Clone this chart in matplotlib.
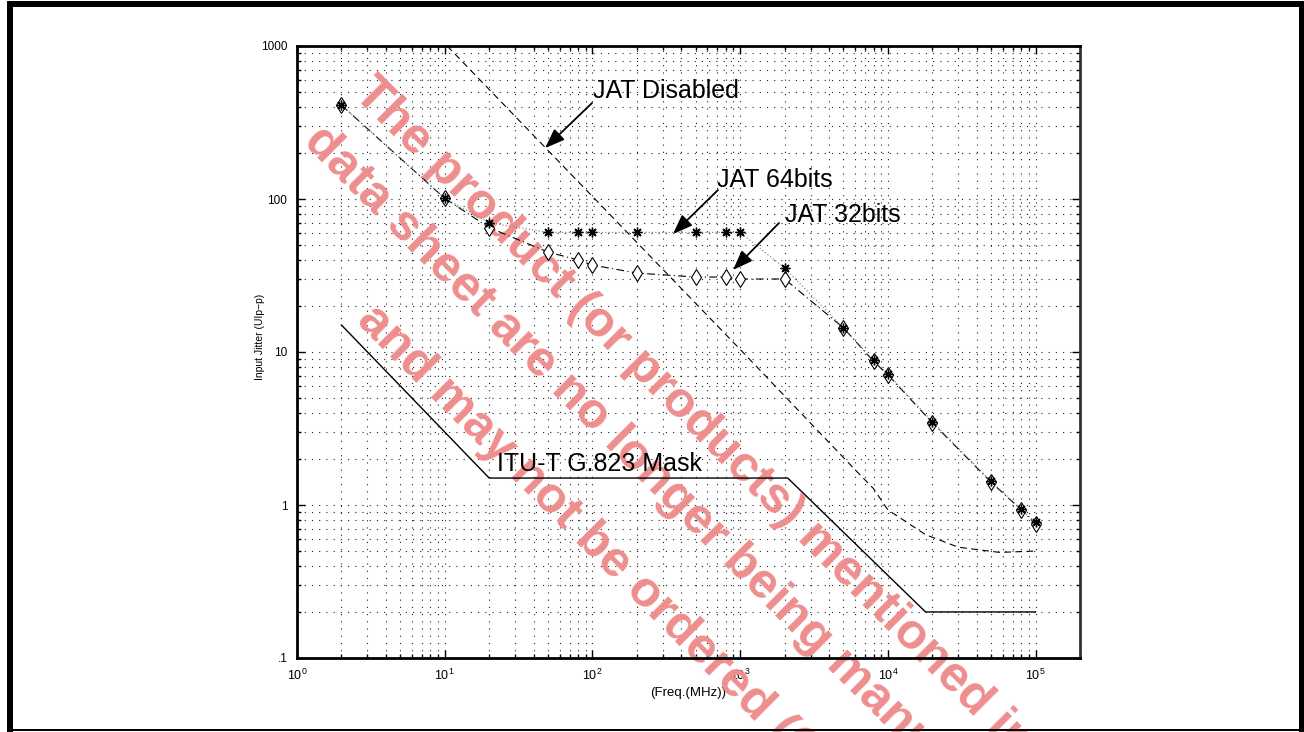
import numpy as np
import matplotlib
matplotlib.use("Agg")
import matplotlib.pyplot as plt
from matplotlib.patches import Rectangle
from matplotlib.ticker import LogLocator, FixedLocator, FixedFormatter, NullFormatter

plt.rcParams['font.family'] = ['Liberation Sans', 'DejaVu Sans']
plt.rcParams['mathtext.fontset'] = 'custom'
plt.rcParams['mathtext.rm'] = 'Liberation Sans'
plt.rcParams['mathtext.it'] = 'Liberation Sans:italic'
plt.rcParams['mathtext.bf'] = 'Liberation Sans:bold'

# ---------------- data ----------------
freq_jat = [2, 10, 20, 50, 80, 100, 200, 500, 800, 1000, 2000, 5000, 8000, 10000, 20000, 50000, 80000, 100000]
jat32 = [410, 101, 65, 45, 40, 37, 32.8, 30.9, 30.9, 30, 30, 14.4, 8.7, 7.1, 3.45, 1.41, 0.93, 0.75]
jat64 = [410, 101, 70, 60.5, 60.5, 60.5, 60.5, 60.5, 60.5, 60.5, 35.4, 14.4, 8.8, 7.2, 3.5, 1.43, 0.94, 0.77]

freq_dis = [10.4, 100, 1000, 6000, 8000, 10000, 18000, 30000, 57000, 100000]
jat_dis = [1000, 104, 10.4, 1.7, 1.28, 0.93, 0.64, 0.53, 0.49, 0.5]

freq_mask = [2, 20, 2100, 18000, 100000]
mask = [15, 1.5, 1.5, 0.2, 0.2]

y_ticks = [0.1, 1, 10, 100, 1000]
y_tick_labels = ['.1', '1', '10', '100', '1000']

watermark_lines = ["The product (or products) mentioned in this",
                   "data sheet are no longer being manufactured",
                   "and may not be ordered (Obsolete)"]

# ---------------- figure ----------------
W, H = 1304, 732
fig = plt.figure(figsize=(W / 100, H / 100), dpi=100)
ax = fig.add_axes([297 / W, 1 - 658 / H, (1080 - 297) / W, (658 - 46) / H])

ax.set_xscale('log')
ax.set_yscale('log')
ax.set_xlim(1, 2e5)
ax.set_ylim(0.1, 1000)

# grid
ax.grid(True, which='both', linestyle=(0, (1, 5.5)), linewidth=0.8, color='#222222')
ax.set_axisbelow(True)

# series
ax.plot(freq_mask, mask, '-', color='black', lw=1.0, zorder=3)
ax.plot(freq_dis, jat_dis, color='black', lw=0.8, linestyle=(0, (6, 4)), zorder=3)
ax.plot(freq_jat, jat32, color='black', lw=0.8, linestyle=(0, (7, 3, 1, 3)),
        marker='d', markersize=8.5, mfc='white', mec='black', mew=0.8, zorder=4)
ax.plot(freq_jat, jat64, color='#777777', lw=0.8, linestyle=(0, (1, 2)),
        marker=(8, 2, 0), markersize=7, mec='black', mew=1.0, zorder=5)

# ticks
ax.xaxis.set_major_locator(LogLocator(base=10, numticks=10))
ax.xaxis.set_minor_locator(LogLocator(base=10, subs=np.arange(2, 10), numticks=20))
ax.xaxis.set_minor_formatter(NullFormatter())
ax.yaxis.set_major_locator(FixedLocator(y_ticks))
ax.yaxis.set_major_formatter(FixedFormatter(y_tick_labels))
ax.yaxis.set_minor_locator(LogLocator(base=10, subs=np.arange(2, 10), numticks=20))
ax.yaxis.set_minor_formatter(NullFormatter())
ax.tick_params(which='both', direction='in', top=True, right=True, width=1)
ax.tick_params(which='major', length=6)
ax.tick_params(which='minor', length=3)
ax.tick_params(axis='y', pad=7, labelsize=8.5)
ax.tick_params(axis='x', pad=7, labelsize=9)

for s in ax.spines.values():
    s.set_linewidth(2)
    s.set_color('black')
ax.spines['right'].set_color('#333333')

ax.set_xlabel('(Freq.(MHz))', fontsize=9.5, labelpad=3)
ax.set_ylabel('Input Jitter (UIp\u2212p)', fontsize=7.5)
ax.yaxis.set_label_coords(-0.041, 0.525)

# annotations
fs = 18
arrow_style = dict(arrowstyle='-|>,head_length=1.2,head_width=0.45', color='black', lw=1.3,
                   shrinkA=0, shrinkB=0)
ax.text(101, 457, 'JAT Disabled', fontsize=fs, ha='left', va='baseline', zorder=6)
ax.annotate('', xy=(47.8, 215), xytext=(99.4, 424), arrowprops=arrow_style, zorder=6)
ax.text(698, 119.7, 'JAT 64bits', fontsize=fs, ha='left', va='baseline', zorder=6)
ax.annotate('', xy=(351, 59), xytext=(708, 114.5), arrowprops=arrow_style, zorder=6)
ax.text(2014, 70.8, 'JAT 32bits', fontsize=fs, ha='left', va='baseline', zorder=6)
ax.annotate('', xy=(896, 34.4), xytext=(1834, 69.7), arrowprops=arrow_style, zorder=6)
ax.text(22.6, 1.667, 'ITU-T G.823 Mask', fontsize=fs, ha='left', va='baseline', zorder=6)

# watermark (between grid and data)
wm_anchor = [(352, 95), (302, 143), (355, 322)]
for (px, py), line in zip(wm_anchor, watermark_lines):
    ax.text(px / W, 1 - py / H, line, transform=fig.transFigure, rotation=-45,
            rotation_mode='anchor', ha='left', va='baseline', fontsize=36,
            fontweight='bold', color='#EE8E8E', clip_on=False, zorder=2)

# page frame
def frame_rect(x0, y0, x1, y1):
    fig.add_artist(Rectangle((x0 / W, 1 - y1 / H), (x1 - x0) / W, (y1 - y0) / H,
                             transform=fig.transFigure, facecolor='black', edgecolor='none', zorder=10))

frame_rect(7, 1, 1304, 7)      # top
frame_rect(7, 1, 13, 732)      # left
frame_rect(1299, 1, 1304, 732)  # right
frame_rect(7, 729, 1304, 731)  # bottom

fig.savefig('out.png', dpi=100)
